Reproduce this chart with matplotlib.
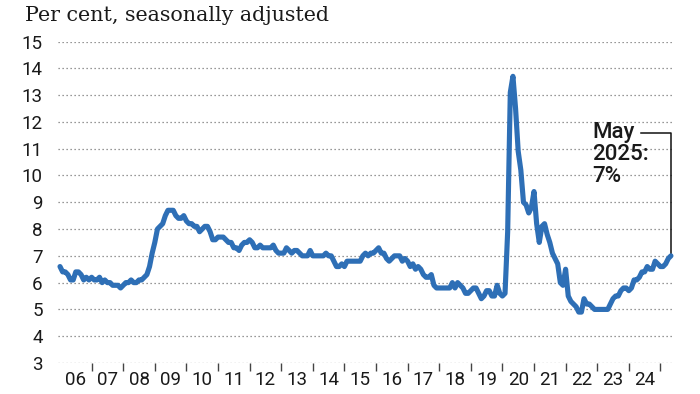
import matplotlib
matplotlib.use("Agg")
import matplotlib.pyplot as plt
import numpy as np

# Canada unemployment rate, monthly, Jan 2006 - May 2025 (per cent, seasonally adjusted)
y2006 = [6.6, 6.4, 6.4, 6.3, 6.1, 6.1, 6.4, 6.4, 6.3, 6.1, 6.2, 6.1]
y2007 = [6.2, 6.1, 6.1, 6.2, 6.0, 6.1, 6.0, 6.0, 5.9, 5.9, 5.9, 5.8]
y2008 = [5.9, 6.0, 6.0, 6.1, 6.0, 6.0, 6.1, 6.1, 6.2, 6.3, 6.6, 7.1]
y2009 = [7.5, 8.0, 8.1, 8.2, 8.5, 8.7, 8.7, 8.7, 8.5, 8.4, 8.4, 8.5]
y2010 = [8.3, 8.2, 8.2, 8.1, 8.1, 7.9, 8.0, 8.1, 8.1, 7.9, 7.6, 7.6]
y2011 = [7.7, 7.7, 7.7, 7.6, 7.5, 7.5, 7.3, 7.3, 7.2, 7.4, 7.5, 7.5]
y2012 = [7.6, 7.5, 7.3, 7.3, 7.4, 7.3, 7.3, 7.3, 7.3, 7.4, 7.2, 7.1]
y2013 = [7.1, 7.1, 7.3, 7.2, 7.1, 7.2, 7.2, 7.1, 7.0, 7.0, 7.0, 7.2]
y2014 = [7.0, 7.0, 7.0, 7.0, 7.0, 7.1, 7.0, 7.0, 6.8, 6.6, 6.6, 6.7]
y2015 = [6.6, 6.8, 6.8, 6.8, 6.8, 6.8, 6.8, 7.0, 7.1, 7.0, 7.1, 7.1]
y2016 = [7.2, 7.3, 7.1, 7.1, 6.9, 6.8, 6.9, 7.0, 7.0, 7.0, 6.8, 6.9]
y2017 = [6.8, 6.6, 6.7, 6.5, 6.6, 6.5, 6.3, 6.2, 6.2, 6.3, 5.9, 5.8]
y2018 = [5.8, 5.8, 5.8, 5.8, 5.8, 6.0, 5.8, 6.0, 5.9, 5.8, 5.6, 5.6]
y2019 = [5.7, 5.8, 5.8, 5.6, 5.4, 5.5, 5.7, 5.7, 5.5, 5.5, 5.9, 5.6]
y2020 = [5.5, 5.6, 7.9, 13.1, 13.7, 12.5, 10.9, 10.2, 9.0, 8.9, 8.6, 8.8]
y2021 = [9.4, 8.2, 7.5, 8.1, 8.2, 7.8, 7.5, 7.1, 6.9, 6.7, 6.0, 5.9]
y2022 = [6.5, 5.5, 5.3, 5.2, 5.1, 4.9, 4.9, 5.4, 5.2, 5.2, 5.1, 5.0]
y2023 = [5.0, 5.0, 5.0, 5.0, 5.0, 5.2, 5.4, 5.5, 5.5, 5.7, 5.8, 5.8]
y2024 = [5.7, 5.8, 6.1, 6.1, 6.2, 6.4, 6.4, 6.6, 6.5, 6.5, 6.8, 6.7]
y2025 = [6.6, 6.6, 6.7, 6.9, 7.0]

rate = (y2006 + y2007 + y2008 + y2009 + y2010 + y2011 + y2012 + y2013 + y2014 + y2015
        + y2016 + y2017 + y2018 + y2019 + y2020 + y2021 + y2022 + y2023 + y2024 + y2025)
start_year = 2006
x_years = [start_year + i / 12 for i in range(len(rate))]

year_labels = ["06", "07", "08", "09", "10", "11", "12", "13", "14", "15",
               "16", "17", "18", "19", "20", "21", "22", "23", "24"]
y_ticks = list(range(3, 16))

title = "Per cent, seasonally adjusted"
note = "May\n2025:\n7%"

LINE = "#2e6fb6"
TXT = "#1a1a1a"
sans = ["Roboto", "DejaVu Sans"]

fig = plt.figure(figsize=(7, 3.94), dpi=100)
W, H = 700, 394
ax = fig.add_axes([58 / W, 1 - 363 / H, (674 - 58) / W, (363 - 41.5) / H])

ax.plot(x_years, rate, color=LINE, lw=3.7, solid_joinstyle="round",
        solid_capstyle="round", zorder=3, clip_on=False)

ax.set_xlim(2006 - 2 / 31.6, 2006 + 614 / 31.6)
ax.set_ylim(3, 15)

for s in ax.spines.values():
    s.set_visible(False)

ax.set_yticks(y_ticks)
ax.set_yticklabels([str(v) for v in y_ticks], family=sans, fontsize=13.5, color=TXT)
ax.tick_params(axis="y", length=0, pad=11)
ax.yaxis.grid(True, linestyle=(0, (1, 2.2)), color="#777777", lw=0.9)
ax.xaxis.grid(False)

# year boundary ticks and mid-year labels
ax.set_xticks([start_year + 1 + i for i in range(len(year_labels))])
ax.set_xticklabels([])
ax.tick_params(axis="x", which="major", length=6, width=1, color="#444444", direction="out")
ax.set_xticks([start_year + i + 0.5 for i in range(len(year_labels))], minor=True)
ax.set_xticklabels(year_labels, minor=True, family=sans, fontsize=13.5, color=TXT)
ax.tick_params(axis="x", which="minor", length=0, pad=6)

fig.text(25 / W, 1 - 21 / H, title, family=["DejaVu Serif"], fontsize=14.9,
         color=TXT, ha="left", va="baseline")

# annotation for last value
x_last = x_years[-1]
y_last = rate[-1]
ax.text(2006 + (592 - 60) / 31.6, 15 - (122 - 41.5) / 26.8, note, family=sans,
        fontsize=16, fontweight="medium", color=TXT, ha="left", va="top",
        linespacing=1.05)
y_top = 15 - (133 - 41.5) / 26.8
ax.plot([2006 + (641 - 60) / 31.6, x_last, x_last], [y_top, y_top, y_last],
        color="#111111", lw=1.1, zorder=2, clip_on=False)

fig.savefig("out.png", dpi=100)
